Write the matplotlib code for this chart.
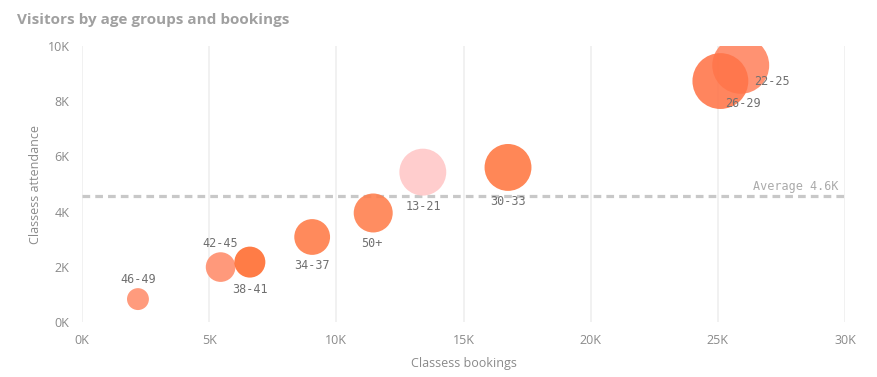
import matplotlib
matplotlib.use("AGG")
import matplotlib.pyplot as plt
import numpy as np

# data
groups = ["46-49", "42-45", "38-41", "34-37", "50+", "13-21", "30-33", "22-25", "26-29"]
bookings = [2200, 5450, 6600, 9050, 11450, 13400, 16750, 25900, 25100]
attendance = [830, 1990, 2170, 3080, 3950, 5430, 5600, 9300, 8730]
visitors = [1.2, 2.2, 2.4, 3.2, 3.8, 5.5, 5.5, 8.1, 7.8]  # bubble size measure (K)
x_ticks = [0, 5000, 10000, 15000, 20000, 25000, 30000]
y_ticks = [0, 2000, 4000, 6000, 8000, 10000]

# styling
colors = ["#ff8d6b", "#ff8b69", "#ff6a2c", "#ff7a45", "#ff7d4b", "#ffc6c6", "#ff7640", "#ff835e", "#ff7448"]
label_offsets = [(0, 20), (0, 24), (0, -27), (0, -29), (-1, -31), (1, -34), (0, -34), (31, -16), (23, -22)]
label_font = "DejaVu Sans Mono"
axis_font = "Open Sans"

fig = plt.figure(figsize=(8.78, 3.77), dpi=100)
ax = fig.add_axes([82/878, 1-322/377, (845-82)/878, (322-46)/377])

sizes = np.array(visitors) * 100.0 * 0.72**2 * 4
sc = ax.scatter(bookings, attendance, s=sizes, c=colors, alpha=0.88, linewidths=0, zorder=3)
sc.set_clip_box(ax.bbox)
sc.set_clip_path(ax.patch)

for g, x, y, off in zip(groups, bookings, attendance, label_offsets):
    ax.annotate(g, (x, y), xytext=off, textcoords="offset pixels", ha="center", va="center",
                fontsize=8.5, color="#707070", family=label_font, zorder=5)

avg = np.mean(attendance)
ax.axhline(avg, color="#c8c8c8", lw=2.3, dashes=(2.4, 1.6), zorder=2)
ax.text(29750, avg + 120, "Average %.1fK" % (avg / 1000), ha="right", va="bottom",
        fontsize=8.5, color="#aaaaaa", family=label_font)

ax.set_xlim(0, 30000)
ax.set_ylim(0, 10000)
ax.set_xticks(x_ticks)
ax.set_yticks(y_ticks)
ax.set_xticklabels(["%dK" % (v // 1000) for v in x_ticks])
ax.set_yticklabels(["%dK" % (v // 1000) for v in y_ticks])
ax.tick_params(length=0, labelsize=9, labelcolor="#8a8a8a", pad=9)
for lab in ax.get_xticklabels() + ax.get_yticklabels():
    lab.set_family(axis_font)
ax.grid(axis="x", color="#eeeeee", lw=1.1, zorder=0)
ax.set_axisbelow(True)
for sp in ax.spines.values():
    sp.set_visible(False)

ax.set_xlabel("Classess bookings", fontsize=9, color="#8a8a8a", family=axis_font, labelpad=7)
ax.set_ylabel("Classess attendance", fontsize=9, color="#8a8a8a", family=axis_font, labelpad=4)

fig.text(17/878, 1-20/377, "Visitors by age groups and bookings", fontsize=11, fontweight="bold",
         color="#a0a0a0", family=axis_font, va="center")

plt.savefig("out.png", dpi=100)
